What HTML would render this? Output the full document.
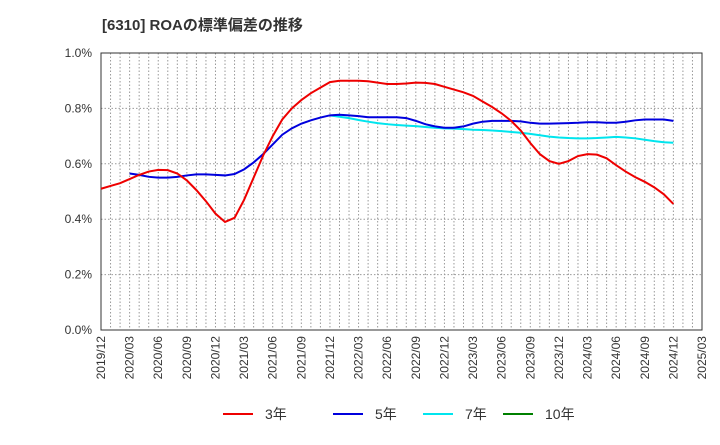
<!DOCTYPE html>
<html><head><meta charset="utf-8"><style>
body{margin:0;background:#fff;font-family:"Liberation Sans","Noto Sans CJK JP",sans-serif}
</style></head><body>
<svg id="c" width="720" height="440" xmlns="http://www.w3.org/2000/svg">
<text x="102" y="30" font-size="15" font-weight="bold" fill="#333" font-family="Liberation Sans, Noto Sans CJK JP, sans-serif">[6310]  ROAの標準偏差の推移</text>
<g id="grid"></g><g id="axes"></g><g id="series"></g><g id="legend"></g>
</svg>
<script>
const xLabels=["2019/12","2020/03","2020/06","2020/09","2020/12","2021/03","2021/06","2021/09","2021/12","2022/03","2022/06","2022/09","2022/12","2023/03","2023/06","2023/09","2023/12","2024/03","2024/06","2024/09","2024/12","2025/03"];
const yTicks=[0,0.2,0.4,0.6,0.8,1.0];
const s3=[.51,.52,.53,.545,.56,.572,.578,.577,.565,.54,.505,.465,.42,.39,.405,.47,.55,.63,.70,.76,.80,.83,.855,.875,.895,.90,.90,.90,.898,.893,.888,.888,.89,.893,.892,.888,.878,.868,.858,.845,.825,.805,.782,.755,.72,.675,.635,.61,.60,.61,.628,.635,.633,.62,.595,.572,.552,.535,.515,.49,.455];
const s5start=3;
const s5=[.565,.56,.553,.55,.55,.553,.558,.562,.562,.56,.558,.563,.58,.605,.635,.67,.705,.728,.745,.757,.767,.775,.777,.775,.772,.768,.768,.768,.768,.765,.755,.743,.735,.73,.73,.735,.745,.752,.755,.755,.755,.753,.748,.745,.745,.746,.747,.748,.75,.75,.748,.748,.752,.757,.76,.76,.76,.755];
const s7start=24;
const s7=[.775,.77,.765,.758,.752,.747,.743,.74,.738,.736,.733,.73,.728,.727,.725,.723,.722,.72,.718,.715,.712,.708,.703,.698,.695,.693,.692,.692,.693,.695,.697,.695,.692,.687,.682,.678,.676];
const s10=[];
const L=101,R=702,T=53,B=330,NM=63;
const ns="http://www.w3.org/2000/svg";
const X=m=>L+(R-L)*m/NM, Y=v=>B-(B-T)*v/1.0;
function mk(t,a,p){const e=document.createElementNS(ns,t);for(const k in a)e.setAttribute(k,a[k]);p.appendChild(e);return e;}
const g=document.getElementById('grid'),ax=document.getElementById('axes'),se=document.getElementById('series'),lg=document.getElementById('legend');
for(let m=1;m<NM;m++){const l=mk('line',{x1:X(m),x2:X(m),y1:T,y2:B,stroke:'#999','stroke-dasharray':'1.5,2','stroke-width':1},g);
}
yTicks.forEach(v=>{if(v>0&&v<1){const l=mk('line',{x1:L,x2:R,y1:Y(v),y2:Y(v),stroke:'#999','stroke-dasharray':'1.5,2'},g);
}
const t=mk('text',{x:L-9,y:Y(v)+4,'text-anchor':'end','font-size':12,fill:'#333'},ax);t.textContent=v.toFixed(1)+'%';
});
const fr=mk('rect',{x:L,y:T,width:R-L,height:B-T,fill:'none',stroke:'#333'},ax);

xLabels.forEach((s,i)=>{const x=X(i*3)+4,y=B+6;const t=mk('text',{x:x,y:y,transform:`rotate(-90 ${x} ${y})`,'text-anchor':'end','font-size':12,fill:'#333'},ax);t.textContent=s;
});
function line(arr,start,col,name){if(!arr.length)return;const p=mk('polyline',{points:arr.map((v,i)=>X(start+i)+','+Y(v)).join(' '),fill:'none',stroke:col,'stroke-width':2},se);
}
line(s7,s7start,'#00e5ee','series-7y');line(s5,s5start,'#0000dd','series-5y');line(s3,0,'#ee0000','series-3y');line(s10,0,'#008000','series-10y');
[['3年','#ee0000',223],['5年','#0000dd',333],['7年','#00e5ee',423],['10年','#008000',503]].forEach(([n,c,x])=>{
const gg=mk('g',{},lg);
mk('line',{x1:x,x2:x+30,y1:414,y2:414,stroke:c,'stroke-width':2},gg);
const t=mk('text',{x:x+42,y:419,'font-size':14,fill:'#333'},gg);t.textContent=n;});
</script>
</body></html>
